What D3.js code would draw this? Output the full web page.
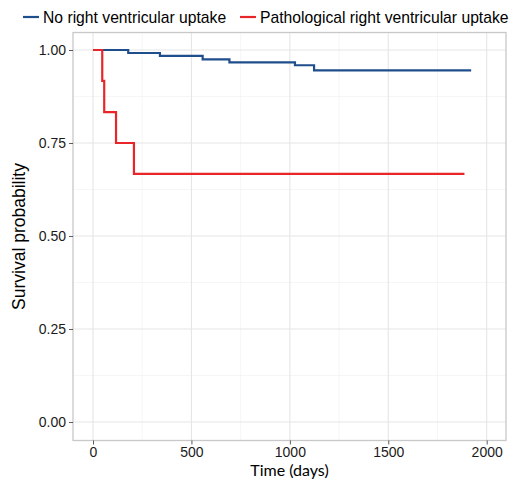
<!DOCTYPE html>
<html><head><meta charset="utf-8">
<script src="https://cdn.jsdelivr.net/npm/d3@7"></script>
<style>body{margin:0;background:#fff}</style>
</head><body>
<svg id="c" width="518" height="482"></svg>
<script>
const seriesNames = ["No right ventricular uptake", "Pathological right ventricular uptake"];
const seriesColors = ["#1f4e8c", "#e8262a"];
// step times and survival levels
const noUptakeTime = [0, 179, 340, 557, 693, 1026, 1123, 1921];
const noUptakeSurv = [1.000, 0.992, 0.984, 0.975, 0.967, 0.959, 0.945, 0.945];
const pathTime = [0, 47, 57, 117, 208, 1887];
const pathSurv = [1.000, 0.917, 0.833, 0.750, 0.667, 0.667];
const xTicks = [0, 500, 1000, 1500, 2000];
const yTicks = [0, 0.25, 0.5, 0.75, 1.0];

const svg = d3.select("#c");
const L = 73, R = 506, T = 32.5, B = 440.5;
const x = d3.scaleLinear().domain([0, 2000]).range([93, 486.7]);
const y = d3.scaleLinear().domain([0, 1]).range([422, 50]);

svg.append("rect").attr("x", L).attr("y", T).attr("width", R - L).attr("height", B - T).attr("fill", "#fff");
const xMinor = [250, 750, 1250, 1750];
const yMinor = [0.125, 0.375, 0.625, 0.875];
svg.append("g").selectAll("line").data(xMinor).join("line")
  .attr("x1", d => x(d)).attr("x2", d => x(d)).attr("y1", T).attr("y2", B)
  .attr("stroke", "#f0f0f0").attr("stroke-width", 0.6);
svg.append("g").selectAll("line").data(yMinor).join("line")
  .attr("y1", d => y(d)).attr("y2", d => y(d)).attr("x1", L).attr("x2", R)
  .attr("stroke", "#f0f0f0").attr("stroke-width", 0.6);
svg.append("g").selectAll("line").data(xTicks).join("line")
  .attr("x1", d => x(d)).attr("x2", d => x(d)).attr("y1", T).attr("y2", B)
  .attr("stroke", "#e6e6e6").attr("stroke-width", 1.1);
svg.append("g").selectAll("line").data(yTicks).join("line")
  .attr("y1", d => y(d)).attr("y2", d => y(d)).attr("x1", L).attr("x2", R)
  .attr("stroke", "#e6e6e6").attr("stroke-width", 1.1);

const line = d3.line().x(d => x(d[0])).y(d => y(d[1])).curve(d3.curveStepAfter);
const series = [
  noUptakeTime.map((t, i) => [t, noUptakeSurv[i]]),
  pathTime.map((t, i) => [t, pathSurv[i]])
];
series.forEach((s, i) => {
  svg.append("path").datum(s).attr("d", line).attr("fill", "none")
    .attr("stroke", seriesColors[i]).attr("stroke-width", 2.2);
});

svg.append("rect").attr("x", L).attr("y", T).attr("width", R - L).attr("height", B - T)
  .attr("fill", "none").attr("stroke", "#c8c8c8").attr("stroke-width", 1.3);

const xa = svg.append("g").attr("transform", `translate(0,${B})`)
  .call(d3.axisBottom(x).tickValues(xTicks).tickSize(4).tickPadding(3).tickFormat(d3.format("d")));
const ya = svg.append("g").attr("transform", `translate(${L},0)`)
  .call(d3.axisLeft(y).tickValues(yTicks).tickSize(4).tickPadding(3).tickFormat(d3.format(".2f")));
[xa, ya].forEach(a => {
  a.select(".domain").remove();
  a.selectAll(".tick line").attr("stroke", "#333").attr("stroke-width", 0.8);
  a.selectAll("text").attr("fill", "#1a1a1a").style("font-family", "Liberation Sans, Arial, sans-serif").style("font-size", "14px");
});

svg.append("text").attr("x", (L + R) / 2).attr("y", 476).attr("text-anchor", "middle")
  .style("font-family", "Lato, Carlito, sans-serif").style("font-size", "16px").attr("fill", "#000")
  .text("Time (days)");
svg.append("text").attr("transform", `translate(25,${(T + B) / 2}) rotate(-90)`).attr("text-anchor", "middle")
  .style("font-family", "Liberation Sans, Arial, sans-serif").style("font-size", "17.5px").attr("fill", "#000")
  .text("Survival probability");

const leg = svg.append("g");
const legX = [23, 240];
seriesNames.forEach((n, i) => {
  leg.append("line").attr("x1", legX[i]).attr("x2", legX[i] + 16).attr("y1", 17).attr("y2", 17)
    .attr("stroke", seriesColors[i]).attr("stroke-width", 2.2);
  leg.append("text").attr("x", legX[i] + 20).attr("y", 22.5)
    .style("font-family", "Liberation Sans, Arial, sans-serif").style("font-size", "15.7px").attr("fill", "#000")
    .text(n);
});
</script>
</body></html>
